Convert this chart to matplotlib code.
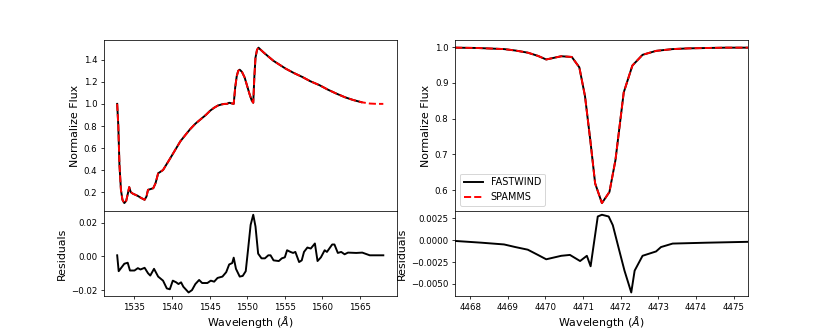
"""
FASTWIND vs SPAMMS comparison: C IV 1550 (left) and He I 4471 (right),
with residual panels underneath.
"""

import numpy as np
import matplotlib
matplotlib.use('Agg')
import matplotlib.pyplot as plt
from matplotlib.gridspec import GridSpec

# ---- UV line (C IV) ----
wl_uv = [1532.7, 1532.85, 1533.0, 1533.2, 1533.4, 1533.65, 1533.9, 1534.1, 1534.3,
         1534.5, 1534.8, 1535.45, 1535.8, 1536.35, 1536.6, 1536.8, 1537.5, 1537.8,
         1538.15, 1538.8, 1539.7, 1540.4, 1541.1, 1541.8, 1542.4, 1543.1, 1543.8,
         1544.5, 1545.1, 1545.6, 1546.1, 1546.6, 1547.0, 1547.3, 1547.6, 1547.9,
         1548.2, 1548.4, 1548.6, 1548.8, 1549.0, 1549.3, 1549.65, 1550.0, 1550.3,
         1550.6, 1550.8, 1550.95, 1551.1, 1551.3, 1551.5, 1551.8, 1552.2, 1552.8,
         1553.5, 1554.3, 1555.1, 1556.2, 1557.3, 1558.4, 1559.6, 1560.7, 1561.8,
         1563.0, 1564.1, 1565.2, 1566.3, 1567.2, 1568.1]
flux_uv = [1.00, 0.80, 0.45, 0.22, 0.13, 0.10, 0.12, 0.18, 0.245,
           0.20, 0.185, 0.165, 0.15, 0.13, 0.16, 0.22, 0.235, 0.28,
           0.37, 0.40, 0.50, 0.58, 0.66, 0.72, 0.77, 0.82, 0.86,
           0.90, 0.94, 0.965, 0.985, 0.995, 1.00, 1.00, 1.01, 1.005,
           1.00, 1.15, 1.25, 1.30, 1.31, 1.29, 1.24, 1.16, 1.09,
           1.03, 1.01, 1.25, 1.42, 1.49, 1.51, 1.49, 1.465, 1.43,
           1.39, 1.355, 1.32, 1.28, 1.245, 1.205, 1.17, 1.13, 1.095,
           1.06, 1.035, 1.015, 1.003, 1.0, 1.0]
n_fw_uv = 66  # FASTWIND stops a bit before SPAMMS on the red side

wl_res_uv = [1532.7, 1532.9, 1533.65, 1534.1, 1534.4, 1535.0, 1535.45, 1535.8, 1536.35,
             1536.8, 1537.1, 1537.6, 1538.15, 1538.8, 1539.3, 1539.7, 1540.1, 1540.55,
             1540.85, 1541.2, 1541.5, 1542.2, 1542.65, 1543.1, 1543.6, 1544.0, 1544.7,
             1545.15, 1545.6, 1546.05, 1546.7, 1547.2, 1547.6, 1548.0, 1548.2, 1548.5,
             1549.0, 1549.4, 1549.8, 1550.1, 1550.45, 1550.8, 1551.1, 1551.45, 1551.9,
             1552.35, 1552.8, 1553.1, 1553.5, 1554.2, 1554.6, 1555.0, 1555.3, 1555.75,
             1556.1, 1556.4, 1556.9, 1557.25, 1557.55, 1558.0, 1558.45, 1559.0, 1559.35,
             1559.8, 1560.3, 1560.6, 1561.3, 1561.6, 1562.05, 1562.5, 1562.95, 1563.4,
             1564.5, 1565.3, 1566.3, 1568.1]
res_uv = [0.0006, -0.0088, -0.0044, -0.0038, -0.0084, -0.0084, -0.0070, -0.0078, -0.0068,
          -0.0100, -0.0114, -0.0074, -0.0120, -0.0144, -0.0190, -0.0195, -0.0144, -0.0154,
          -0.0164, -0.0154, -0.0180, -0.0214, -0.0200, -0.0164, -0.0140, -0.0158, -0.0158,
          -0.0144, -0.0150, -0.0128, -0.0120, -0.0094, -0.0048, -0.0040, -0.0008, -0.0074,
          -0.0120, -0.0116, -0.0088, 0.0036, 0.0186, 0.0246, 0.0176, 0.0016, -0.0012,
          -0.0012, 0.0006, 0.0006, -0.0024, -0.0028, -0.0012, -0.0006, 0.0036, 0.0026,
          0.0020, 0.0026, -0.0034, -0.0024, 0.0026, 0.0052, 0.0046, 0.0076, -0.0028,
          -0.0006, 0.0036, 0.0026, 0.0070, 0.0070, 0.0020, 0.0026, 0.0012, 0.0022,
          0.0020, 0.0022, 0.0006, 0.0006]

# ---- optical line (He I 4471) ----
wl_opt = [4467.6, 4468.2, 4468.9, 4469.2, 4469.53, 4469.8, 4470.02, 4470.42, 4470.7,
          4470.9, 4471.05, 4471.19, 4471.32, 4471.5, 4471.7, 4471.86, 4472.08, 4472.31,
          4472.58, 4472.94, 4473.38, 4473.8, 4474.28, 4474.8, 4475.38]
flux_opt = [0.998, 0.997, 0.994, 0.990, 0.984, 0.975, 0.965, 0.974, 0.972,
            0.943, 0.863, 0.741, 0.619, 0.564, 0.595, 0.684, 0.873, 0.948,
            0.978, 0.989, 0.994, 0.996, 0.997, 0.998, 0.998]

wl_res_opt = [4467.6, 4468.3, 4468.9, 4469.2, 4469.53, 4469.8, 4470.02, 4470.42, 4470.65,
              4470.92, 4471.1, 4471.2, 4471.39, 4471.5, 4471.68, 4471.79, 4471.95, 4472.1,
              4472.28, 4472.37, 4472.58, 4472.94, 4473.07, 4473.38, 4474.28, 4475.38]
res_opt = [-0.0001, -0.0003, -0.0005, -0.0008, -0.0011, -0.0017, -0.0022, -0.0018, -0.0017,
           -0.0024, -0.0018, -0.0030, 0.0027, 0.0029, 0.0027, 0.0017, -0.0010, -0.0035,
           -0.0060, -0.0035, -0.0018, -0.0013, -0.0008, -0.0004, -0.0003, -0.0002]

plt.rcParams['font.size'] = 10
plt.rcParams['xtick.labelsize'] = 9
plt.rcParams['ytick.labelsize'] = 9
plt.rcParams['axes.labelsize'] = 11.5

fig = plt.figure(figsize=(12, 4.81), dpi=69.25)
gs = GridSpec(2, 2, figure=fig, height_ratios=[2, 1], hspace=0, wspace=0.2,
              left=0.125, right=0.9, top=0.88, bottom=0.11)

# left column
ax1 = fig.add_subplot(gs[0, 0])
ax2 = fig.add_subplot(gs[1, 0], sharex=ax1)
ax1.plot(wl_uv[:n_fw_uv], flux_uv[:n_fw_uv], c='k', lw=2, label='FASTWIND')
ax1.plot(wl_uv, flux_uv, c='r', ls='--', lw=2, label='SPAMMS')
ax1.set_ylabel('Normalize Flux')
ax1.tick_params(labelbottom=False)
ax2.plot(wl_res_uv, res_uv, c='k', lw=2)
ax2.set_ylabel('Residuals')
ax2.set_xlabel(r'Wavelength ($\AA$)', labelpad=2)

# right column
ax3 = fig.add_subplot(gs[0, 1])
ax4 = fig.add_subplot(gs[1, 1], sharex=ax3)
ax3.plot(wl_opt, flux_opt, c='k', lw=2, label='FASTWIND')
ax3.plot(wl_opt, flux_opt, c='r', ls='--', lw=2, label='SPAMMS')
ax3.set_ylabel('Normalize Flux')
ax3.tick_params(labelbottom=False)
ax3.legend(loc='lower left')
ax3.set_xlim(4467.6, 4475.38)
ax4.plot(wl_res_opt, res_opt, c='k', lw=2)
ax4.set_ylabel('Residuals')
ax4.set_xlabel(r'Wavelength ($\AA$)', labelpad=2)

plt.savefig('out.png', dpi=69.25)
